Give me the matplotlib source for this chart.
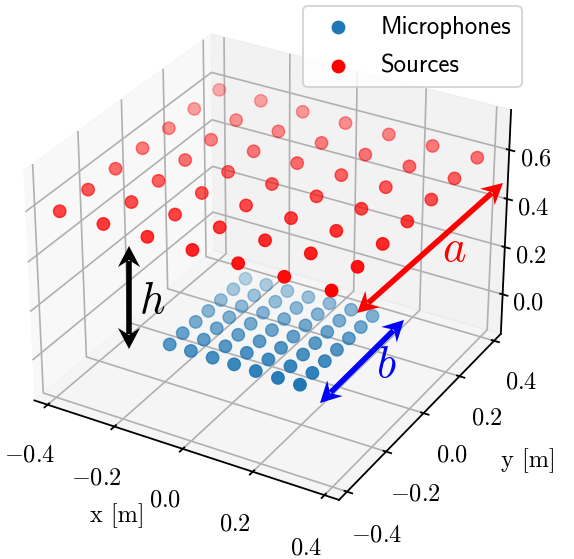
import numpy as np
import matplotlib
matplotlib.use("Agg")
import matplotlib.pyplot as plt
from matplotlib.patches import Polygon
from matplotlib.lines import Line2D

plt.rcParams['mathtext.fontset'] = 'cm'
plt.rcParams['axes.unicode_minus'] = False
plt.rcParams['grid.linewidth'] = 1.2
plt.rcParams['axes.linewidth'] = 1.3
plt.rcParams['xtick.major.width'] = 1.3
plt.rcParams['ytick.major.width'] = 1.3

mic_x = [-0.19, -0.127, -0.063, 0.0, 0.063, 0.127, 0.19]
mic_y = [-0.19, -0.127, -0.063, 0.0, 0.063, 0.127, 0.19]
mic_z = -0.015
src_x = [-0.38, -0.253, -0.127, 0.0, 0.127, 0.253, 0.38]
src_y = [-0.38, -0.253, -0.127, 0.0, 0.127, 0.253, 0.38]
src_z = 0.585
xy_ticks = [-0.4, -0.2, 0.0, 0.2, 0.4]
z_ticks = [0.0, 0.2, 0.4, 0.6]

W, H = 574, 559
fig = plt.figure(figsize=(W/100, H/100), dpi=100)
ax = fig.add_axes([-0.024, 0.0445, 0.97, 0.97], projection='3d')

mx, my = np.meshgrid(mic_x, mic_y)
sx, sy = np.meshgrid(src_x, src_y)
ax.scatter(mx.ravel(), my.ravel(), np.full(mx.size, mic_z), s=80, color='#1f77b4', label='Microphones')
ax.scatter(sx.ravel(), sy.ravel(), np.full(sx.size, src_z), s=80, color='red', label='Sources')

ax.set_xlim(-0.44, 0.44)
ax.set_ylim(-0.44, 0.44)
ax.set_zlim(-0.17, 0.76)
ax.set_xticks(xy_ticks)
ax.set_yticks(xy_ticks)
ax.set_zticks(z_ticks)
ax.set_xticklabels([f'${v:.1f}$' for v in xy_ticks], fontsize=17.5, va='top')
ax.set_yticklabels([f'${v:.1f}$' for v in xy_ticks], fontsize=17.5, va='top')
ax.set_zticklabels([f'${v:.1f}$' for v in z_ticks], fontsize=17.5)
ax.tick_params(axis='x', pad=12)
ax.tick_params(axis='y', pad=11)

fig.text(117/W, 1-516/H, 'x [m]', family='cmr10', fontsize=17.5, ha='center', va='center')
fig.text(528/W, 1-461/H, 'y [m]', family='cmr10', fontsize=17.5, ha='center', va='center')

leg = fig.legend(*ax.get_legend_handles_labels(), loc='upper left', bbox_to_anchor=(303/W, 1-6/H),
                 prop={'family': 'cmss10', 'size': 17.8}, borderaxespad=0, handletextpad=0.75,
                 labelspacing=0.62, edgecolor='0.8')
leg.get_frame().set_linewidth(1.4)

def px(x, y):
    return (x/W, 1-y/H)

def head(tip, u, c):
    n = np.array([-u[1], u[0]])
    pts = [tip, tip - 21*u + 11*n, tip - 14*u, tip - 21*u - 11*n]
    fig.add_artist(Polygon([px(*p) for p in pts], closed=True, transform=fig.transFigure, color=c, lw=0))

for a, b, c in [((357, 313), (503, 183), 'red'), ((320, 403), (404, 320), 'blue'), ((129, 246), (129, 349), 'black')]:
    a, b = np.array(a, float), np.array(b, float)
    u = (b - a) / np.linalg.norm(b - a)
    s, e = a + 15*u, b - 15*u
    fig.add_artist(Line2D([px(*s)[0], px(*e)[0]], [px(*s)[1], px(*e)[1]], transform=fig.transFigure,
                          color=c, lw=4.0, solid_capstyle='butt'))
    head(b, u, c)
    head(a, -u, c)
for pos, s, c in [((454, 248), '$a$', 'red'), ((386, 365), '$b$', 'blue'), ((152, 300), '$h$', 'black')]:
    fig.text(*px(*pos), s, color=c, fontsize=32, ha='center', va='center')

fig.savefig('out.png', dpi=100)
